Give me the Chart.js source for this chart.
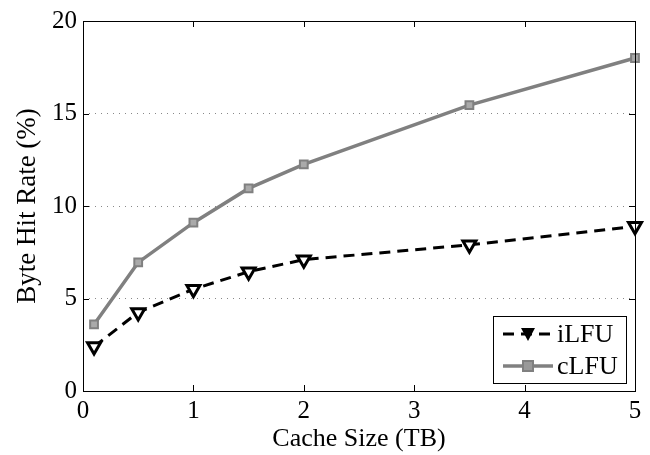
<!DOCTYPE html>
<html><head><meta charset="utf-8">
<script src="https://cdn.jsdelivr.net/npm/chart.js@4"></script>
<style>html,body{margin:0;padding:0;background:#fff}#wrap{width:650px;height:455px;position:relative}</style>
</head><body><div id="wrap"><canvas id="c" width="650" height="455"></canvas></div>
<script>
const cacheSizes = [0.1, 0.5, 1, 1.5, 2, 3.5, 5];
const iLFU = [2.4, 4.25, 5.5, 6.45, 7.1, 7.9, 8.9];
const cLFU = [3.6, 6.95, 9.1, 10.95, 12.25, 15.45, 18.0];
const seriesNames = ['iLFU', 'cLFU'];
const xTicks = [0, 1, 2, 3, 4, 5];
const yTicks = [0, 5, 10, 15, 20];

const serif = "'Liberation Serif','DejaVu Serif',serif";

const boxPlugin = {
  id: 'box',
  afterDraw(chart) {
    const {ctx, chartArea: a, scales} = chart;
    ctx.save();
    ctx.strokeStyle = '#000'; ctx.lineWidth = 1;
    ctx.strokeRect(a.left + 0.5, a.top + 0.5, a.right - a.left, a.bottom - a.top);
    ctx.beginPath();
    const L = 6;
    xTicks.forEach(v => {
      const x = Math.round(scales.x.getPixelForValue(v)) + 0.5;
      ctx.moveTo(x, a.bottom); ctx.lineTo(x, a.bottom - L);
      ctx.moveTo(x, a.top); ctx.lineTo(x, a.top + L);
    });
    yTicks.forEach(v => {
      const y = Math.round(scales.y.getPixelForValue(v)) + 0.5;
      ctx.moveTo(a.left, y); ctx.lineTo(a.left + L, y);
      ctx.moveTo(a.right, y); ctx.lineTo(a.right - L, y);
    });
    ctx.stroke();
    // legend
    const bx = 493, by = 316, bw = 133, bh = 67;
    ctx.fillStyle = '#fff';
    ctx.fillRect(bx, by, bw, bh);
    ctx.strokeRect(bx + 0.5, by + 0.5, bw, bh);
    ctx.font = "26px " + serif;
    ctx.textBaseline = 'middle';
    ctx.textAlign = 'left';
    chart.data.datasets.forEach((ds, i) => {
      const cy = by + 18 + i * 32;
      const x0 = bx + 10, x1 = bx + 60;
      ctx.save();
      ctx.strokeStyle = ds.borderColor; ctx.lineWidth = ds.borderWidth;
      ctx.setLineDash(ds.borderDash || []);
      ctx.beginPath(); ctx.moveTo(x0, cy); ctx.lineTo(x1, cy); ctx.stroke();
      ctx.restore();
      const mx = (x0 + x1) / 2;
      ctx.save();
      if (i === 0) {
        ctx.fillStyle = '#000';
        ctx.beginPath();
        ctx.moveTo(mx - 7, cy - 6); ctx.lineTo(mx + 7, cy - 6); ctx.lineTo(mx, cy + 7); ctx.closePath();
        ctx.fill();
      } else {
        ctx.fillStyle = '#999'; ctx.strokeStyle = '#808080'; ctx.lineWidth = 2;
        ctx.fillRect(mx - 5, cy - 5, 10, 10); ctx.strokeRect(mx - 5, cy - 5, 10, 10);
      }
      ctx.restore();
      ctx.fillStyle = '#000';
      ctx.fillText(ds.label, x1 + 4, cy + 1);
    });
    ctx.restore();
  }
};

new Chart(document.getElementById('c'), {
  type: 'line',
  data: {
    datasets: [
      {
        label: seriesNames[0],
        data: cacheSizes.map((x, i) => ({x, y: iLFU[i]})),
        borderColor: '#000', borderWidth: 3, borderDash: [11, 7],
        pointStyle: 'triangle', rotation: 180, pointRadius: 7.5,
        pointBackgroundColor: '#fff', pointBorderColor: '#000', pointBorderWidth: 3,
        clip: false, tension: 0
      },
      {
        label: seriesNames[1],
        data: cacheSizes.map((x, i) => ({x, y: cLFU[i]})),
        borderColor: '#808080', borderWidth: 3.5,
        pointStyle: 'rect', pointRadius: 5.5,
        pointBackgroundColor: '#aaa', pointBorderColor: '#808080', pointBorderWidth: 2,
        clip: false, tension: 0
      }
    ]
  },
  options: {
    responsive: false, animation: false,
    layout: {padding: {top: 16, right: 15, left: 12, bottom: 0}},
    plugins: {legend: {display: false}, tooltip: {enabled: false}},
    scales: {
      x: {
        type: 'linear', min: 0, max: 5,
        afterBuildTicks: s => { s.ticks = xTicks.map(v => ({value: v})); },
        afterFit: s => { s.height = 64; },
        grid: {display: false, drawTicks: false},
        border: {display: false},
        ticks: {color: '#000', font: {family: serif, size: 25}, padding: 5, maxRotation: 0},
        title: {display: true, text: 'Cache Size (TB)', color: '#000', font: {family: serif, size: 26}, padding: {top: 0, bottom: 0}}
      },
      y: {
        min: 0, max: 20,
        afterBuildTicks: s => { s.ticks = yTicks.map(v => ({value: v})); },
        afterFit: s => { s.width = 71; },
        grid: {
          drawTicks: false, lineWidth: 1,
          color: c => (c.tick && (c.tick.value === 0 || c.tick.value === 20)) ? 'rgba(0,0,0,0)' : '#888'
        },
        border: {display: false, dash: [1, 5]},
        ticks: {color: '#000', font: {family: serif, size: 25}, padding: 6},
        title: {display: true, text: 'Byte Hit Rate (%)', color: '#000', font: {family: serif, size: 27}, padding: {top: 0, bottom: 4}}
      }
    }
  },
  plugins: [boxPlugin]
});
</script></body></html>
